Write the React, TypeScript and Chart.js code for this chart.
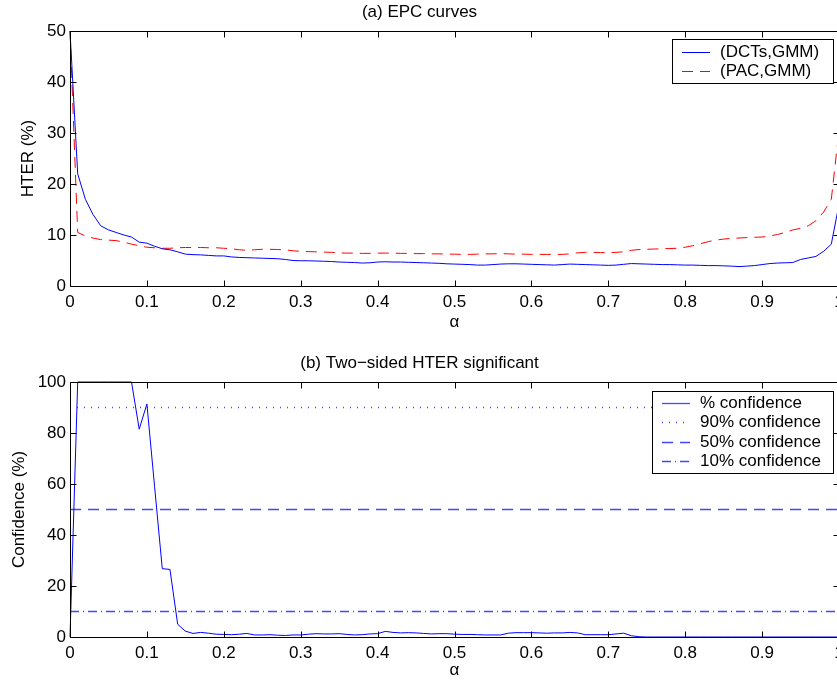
import React, { useEffect, useRef } from "react";
import { Chart, registerables } from "chart.js";

Chart.register(...registerables);

// ---------- data ----------
const ALPHA = [
  0, 0.01, 0.02, 0.03, 0.04, 0.05, 0.06, 0.07, 0.08, 0.09,
  0.1, 0.11, 0.12, 0.13, 0.14, 0.15, 0.16, 0.17, 0.18, 0.19,
  0.2, 0.21, 0.22, 0.23, 0.24, 0.25, 0.26, 0.27, 0.28, 0.29,
  0.3, 0.31, 0.32, 0.33, 0.34, 0.35, 0.36, 0.37, 0.38, 0.39,
  0.4, 0.41, 0.42, 0.43, 0.44, 0.45, 0.46, 0.47, 0.48, 0.49,
  0.5, 0.51, 0.52, 0.53, 0.54, 0.55, 0.56, 0.57, 0.58, 0.59,
  0.6, 0.61, 0.62, 0.63, 0.64, 0.65, 0.66, 0.67, 0.68, 0.69,
  0.7, 0.71, 0.72, 0.73, 0.74, 0.75, 0.76, 0.77, 0.78, 0.79,
  0.8, 0.81, 0.82, 0.83, 0.84, 0.85, 0.86, 0.87, 0.88, 0.89,
  0.9, 0.91, 0.92, 0.93, 0.94, 0.95, 0.96, 0.97, 0.98, 0.99,
  1,
];

const HTER_DCTS_GMM = [
  50, 22, 17, 14, 11.8, 11, 10.5, 10, 9.6, 8.6,
  8.4, 7.8, 7.3, 7.1, 6.7, 6.25, 6.15, 6.1, 6.0, 5.9,
  5.9, 5.7, 5.6, 5.55, 5.5, 5.45, 5.4, 5.35, 5.2, 5.0,
  4.95, 4.95, 4.9, 4.85, 4.8, 4.7, 4.65, 4.6, 4.5, 4.55,
  4.7, 4.75, 4.7, 4.7, 4.65, 4.6, 4.55, 4.5, 4.45, 4.35,
  4.3, 4.25, 4.2, 4.1, 4.1, 4.2, 4.3, 4.35, 4.35, 4.3,
  4.25, 4.2, 4.15, 4.1, 4.2, 4.3, 4.25, 4.2, 4.15, 4.1,
  4.05, 4.1, 4.25, 4.4, 4.35, 4.3, 4.25, 4.2, 4.2, 4.15,
  4.1, 4.1, 4.05, 4.0, 4.0, 3.95, 3.9, 3.8, 3.9, 4.0,
  4.2, 4.4, 4.5, 4.55, 4.6, 5.2, 5.5, 5.8, 6.8, 8.2,
  16,
];

const HTER_PAC_GMM = [
  50, 10.5, 9.8, 9.4, 9.1, 9.0, 8.9, 8.6, 8.2, 7.9,
  7.6, 7.5, 7.4, 7.4, 7.5, 7.55, 7.55, 7.55, 7.5, 7.5,
  7.4, 7.3, 7.1, 7.0, 7.1, 7.2, 7.2, 7.15, 7.1, 6.9,
  6.8, 6.75, 6.7, 6.65, 6.6, 6.5, 6.45, 6.45, 6.4, 6.4,
  6.45, 6.45, 6.45, 6.4, 6.4, 6.35, 6.35, 6.3, 6.3, 6.25,
  6.25, 6.2, 6.2, 6.25, 6.3, 6.3, 6.35, 6.3, 6.25, 6.25,
  6.2, 6.2, 6.2, 6.2, 6.2, 6.3, 6.5, 6.6, 6.6, 6.55,
  6.55, 6.6, 6.7, 7.0, 7.15, 7.2, 7.25, 7.3, 7.35, 7.4,
  7.6, 7.9, 8.3, 8.7, 9.0, 9.2, 9.35, 9.4, 9.5, 9.55,
  9.6, 9.8, 10.1, 10.5, 11.0, 11.3, 11.8, 12.8, 14.5, 17.0,
  30.5,
];

const CONFIDENCE = [
  0, 100, 100, 100, 100, 100, 100, 100, 100, 81.5,
  91.4, 59, 26.8, 26.5, 5, 2.3, 1.4, 1.8, 1.5, 1.1,
  1.0, 0.9, 1.1, 1.4, 0.8, 0.8, 0.9, 0.7, 0.6, 0.8,
  0.8, 1.1, 1.3, 1.2, 1.2, 1.3, 1.0, 0.8, 0.9, 1.2,
  1.3, 2.2, 1.8, 1.6, 1.7, 1.6, 1.4, 1.2, 1.3, 1.3,
  1.1, 1.0, 1.0, 0.9, 0.8, 0.8, 0.8, 1.5, 1.7, 1.7,
  1.7, 1.6, 1.5, 1.6, 1.6, 1.8, 1.6, 0.9, 0.9, 0.9,
  0.9, 1.2, 1.5, 0.5, 0.1, 0, 0, 0, 0, 0,
  0, 0, 0, 0, 0, 0, 0, 0, 0, 0,
  0, 0, 0, 0, 0, 0, 0, 0, 0, 0,
  0,
];

const CONF_LEVELS = [90, 50, 10];
const LEVEL_RANGE = [0, 1];

const TOP_TITLE = "(a) EPC curves";
const BOTTOM_TITLE = "(b) Two\u2212sided HTER significant";
const X_LABEL = "\u03b1";
const TOP_Y_LABEL = "HTER (%)";
const BOTTOM_Y_LABEL = "Confidence (%)";
const TOP_SERIES = ["(DCTs,GMM)", "(PAC,GMM)"];
const BOTTOM_SERIES = ["% confidence", "90% confidence", "50% confidence", "10% confidence"];

// ---------- styling ----------
const FONT = "'Liberation Sans', Arial, Helvetica, sans-serif";
const FS = 17;
const BLUE = "#0000ff";
const LIGHT_BLUE = "#4646ff";
const RED = "#ff0000";
const DASH = [11, 7];
const DOT = [1, 6];
const DASHDOT = [9, 4, 1, 4];

const pts = (ys: number[]) => ALPHA.map((x, i) => ({ x, y: ys[i] }));
const levelPts = (v: number) => LEVEL_RANGE.map((x) => ({ x, y: v }));

const boxPlugin = {
  id: "matlabBox",
  afterDatasetsDraw(chart: any) {
    const { ctx, chartArea: a, scales } = chart;
    ctx.save();
    ctx.strokeStyle = "#000";
    ctx.lineWidth = 1;
    ctx.setLineDash([]);
    const L = Math.round(a.left) + 0.5;
    const R = Math.round(a.right) + 0.5;
    const T = Math.round(a.top) + 0.5;
    const B = Math.round(a.bottom) + 0.5;
    const tl = 6;
    ctx.beginPath();
    ctx.rect(L, T, R - L, B - T);
    scales.x.ticks.forEach((t: any) => {
      const p = Math.round(scales.x.getPixelForValue(t.value)) + 0.5;
      ctx.moveTo(p, B);
      ctx.lineTo(p, B - tl);
      ctx.moveTo(p, T);
      ctx.lineTo(p, T + tl);
    });
    scales.y.ticks.forEach((t: any) => {
      const p = Math.round(scales.y.getPixelForValue(t.value)) + 0.5;
      ctx.moveTo(L, p);
      ctx.lineTo(L + tl, p);
      ctx.moveTo(R, p);
      ctx.lineTo(R - tl, p);
    });
    ctx.stroke();
    ctx.restore();
  },
};

const legendPlugin = {
  id: "matlabLegend",
  afterDraw(chart: any, _args: any, opts: any) {
    if (!opts || !opts.items) return;
    const { ctx } = chart;
    const { left, top, right, bottom, firstRow, rowGap, sx0, sx1, tx, items } = opts;
    ctx.save();
    ctx.fillStyle = "#fff";
    ctx.fillRect(left, top, right - left, bottom - top);
    ctx.strokeStyle = "#000";
    ctx.lineWidth = 1;
    ctx.setLineDash([]);
    ctx.strokeRect(left + 0.5, top + 0.5, right - left, bottom - top);
    ctx.font = `${FS}px ${FONT}`;
    ctx.textBaseline = "middle";
    ctx.textAlign = "left";
    items.forEach((it: any, i: number) => {
      const y = Math.round(firstRow + i * rowGap) + 0.5;
      ctx.strokeStyle = it.color;
      ctx.lineWidth = it.width || 1;
      ctx.setLineDash(it.dash ? Array.from(it.dash) : []);
      ctx.beginPath();
      ctx.moveTo(sx0, y);
      ctx.lineTo(sx1, y);
      ctx.stroke();
      ctx.fillStyle = "#000";
      ctx.fillText(it.label, tx, y);
    });
    ctx.restore();
  },
};

const fmt = (v: any) => {
  const n = Number(Number(v).toFixed(2));
  return String(n);
};

function xAxis(height: number, titlePadBottom: number) {
  return {
    type: "linear",
    min: 0,
    max: 1,
    ticks: {
      stepSize: 0.1,
      color: "#000",
      font: { family: FONT, size: FS },
      padding: 6,
      maxRotation: 0,
      autoSkip: false,
      callback: fmt,
    },
    grid: { display: false, drawTicks: false },
    border: { display: false },
    title: {
      display: true,
      text: X_LABEL,
      color: "#000",
      font: { family: FONT, size: FS },
      padding: { top: 0, bottom: titlePadBottom },
    },
    afterFit(scale: any) {
      scale.height = height;
      scale.paddingLeft = 0;
      scale.paddingRight = 0;
    },
  };
}

function yAxis(max: number, step: number, label: string, titlePad: number) {
  return {
    type: "linear",
    min: 0,
    max,
    ticks: {
      stepSize: step,
      color: "#000",
      font: { family: FONT, size: FS },
      padding: 4,
      callback: fmt,
    },
    grid: { display: false, drawTicks: false },
    border: { display: false },
    title: {
      display: true,
      text: label,
      color: "#000",
      font: { family: FONT, size: FS },
      padding: { top: titlePad, bottom: 0 },
    },
    afterFit(scale: any) {
      scale.width = 70;
    },
  };
}

const lineDs = (label: string, data: any[], color: string, dash: number[], width = 1) => ({
  label,
  data,
  borderColor: color,
  backgroundColor: color,
  borderWidth: width,
  borderDash: dash,
  pointRadius: 0,
  tension: 0,
  fill: false,
  clip: 4,
});

function topConfig(): any {
  return {
    type: "line",
    data: {
      datasets: [
        lineDs(TOP_SERIES[0], pts(HTER_DCTS_GMM), BLUE, []),
        lineDs(TOP_SERIES[1], pts(HTER_PAC_GMM), RED, DASH),
      ],
    },
    options: {
      responsive: false,
      animation: false,
      devicePixelRatio: 1,
      layout: { padding: { top: 0, right: 6, left: 0, bottom: 0 } },
      scales: {
        x: xAxis(54, 7.5),
        y: yAxis(50, 10, TOP_Y_LABEL, 18),
      },
      plugins: {
        legend: { display: false },
        tooltip: { enabled: false },
        title: {
          display: true,
          text: TOP_TITLE,
          color: "#000",
          font: { family: FONT, size: FS, weight: "normal" },
          padding: { top: 2.3, bottom: 8.3 },
        },
        matlabLegend: {
          left: 672,
          top: 39,
          right: 833,
          bottom: 83,
          firstRow: 51.7,
          rowGap: 19,
          sx0: 682,
          sx1: 710,
          tx: 720,
          items: [
            { label: TOP_SERIES[0], color: BLUE, dash: [] },
            { label: TOP_SERIES[1], color: RED, dash: DASH },
          ],
        },
      },
    },
    plugins: [boxPlugin, legendPlugin],
  };
}

function bottomConfig(): any {
  return {
    type: "line",
    data: {
      datasets: [
        lineDs(BOTTOM_SERIES[0], pts(CONFIDENCE), BLUE, []),
        lineDs(BOTTOM_SERIES[1], levelPts(CONF_LEVELS[0]), LIGHT_BLUE, DOT, 1.3),
        lineDs(BOTTOM_SERIES[2], levelPts(CONF_LEVELS[1]), LIGHT_BLUE, DASH, 1.3),
        lineDs(BOTTOM_SERIES[3], levelPts(CONF_LEVELS[2]), LIGHT_BLUE, DASHDOT, 1.3),
      ],
    },
    options: {
      responsive: false,
      animation: false,
      devicePixelRatio: 1,
      layout: { padding: { top: 0, right: 6, left: 0, bottom: 0 } },
      scales: {
        x: xAxis(44, 0),
        y: yAxis(100, 20, BOTTOM_Y_LABEL, 9),
      },
      plugins: {
        legend: { display: false },
        tooltip: { enabled: false },
        title: {
          display: true,
          text: BOTTOM_TITLE,
          color: "#000",
          font: { family: FONT, size: FS, weight: "normal" },
          padding: { top: 13.3, bottom: 8.3 },
        },
        matlabLegend: {
          left: 652,
          top: 51,
          right: 833,
          bottom: 133,
          firstRow: 62.5,
          rowGap: 19.5,
          sx0: 662,
          sx1: 690,
          tx: 700,
          items: [
            { label: BOTTOM_SERIES[0], color: LIGHT_BLUE, dash: [], width: 1.3 },
            { label: BOTTOM_SERIES[1], color: LIGHT_BLUE, dash: DOT, width: 1.3 },
            { label: BOTTOM_SERIES[2], color: LIGHT_BLUE, dash: DASH, width: 1.3 },
            { label: BOTTOM_SERIES[3], color: LIGHT_BLUE, dash: DASHDOT, width: 1.3 },
          ],
        },
      },
    },
    plugins: [boxPlugin, legendPlugin],
  };
}

export default function App() {
  const topRef = useRef<HTMLCanvasElement>(null);
  const botRef = useRef<HTMLCanvasElement>(null);
  useEffect(() => {
    const c1 = new Chart(topRef.current as HTMLCanvasElement, topConfig());
    const c2 = new Chart(botRef.current as HTMLCanvasElement, bottomConfig());
    return () => {
      c1.destroy();
      c2.destroy();
    };
  }, []);
  return (
    <div
      style={{
        position: "absolute",
        left: 0,
        top: 0,
        width: 837,
        height: 681,
        overflow: "hidden",
        background: "#fff",
      }}
    >
      <canvas
        ref={topRef}
        width={845}
        height={340}
        style={{ position: "absolute", left: 0, top: 0, width: 845, height: 340 }}
      />
      <canvas
        ref={botRef}
        width={845}
        height={341}
        style={{ position: "absolute", left: 0, top: 340, width: 845, height: 341 }}
      />
    </div>
  );
}
